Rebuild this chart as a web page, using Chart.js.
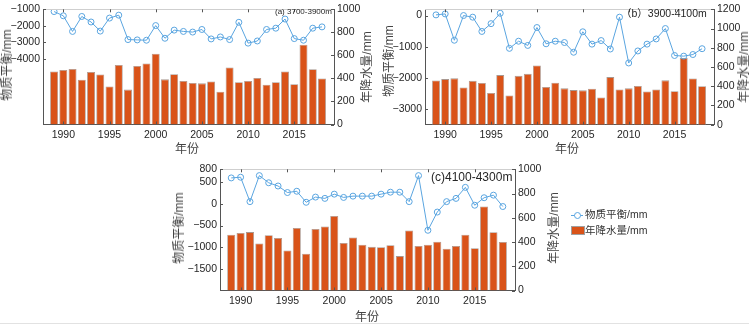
<!DOCTYPE html>
<html lang="zh-CN">

<head>
    <meta charset="UTF-8">
    <title>物质平衡与年降水量</title>
    <script src="https://cdn.jsdelivr.net/npm/chart.js"></script>
    <style>
        body { margin: 0; background: #fff; }
        .tela { position: relative; width: 749px; height: 325px; overflow: hidden; font-family: "Liberation Sans", "Noto Sans CJK SC", sans-serif; color: #262626; }
        .tela canvas { position: absolute; }
        .txt { position: absolute; white-space: nowrap; line-height: 1; }
        .rot { transform: translate(-50%, -50%) rotate(-90deg); color: #444; font-size: 12px; }
        .xt { transform: translate(-50%, -50%); color: #444; font-size: 12px; }
        .rodape { position: absolute; left: 0; top: 323px; width: 749px; height: 0; border-top: 1px solid #e2e2e2; }
    </style>
</head>

<body>
    <div class="tela">
        <canvas id="graficoA"></canvas>
        <canvas id="graficoB"></canvas>
        <canvas id="graficoC"></canvas>

        <!-- titulos dos eixos -->
        <div class="txt rot" style="left:7px; top:65px;">物质平衡/mm</div>
        <div class="txt rot" style="left:367px; top:67px;">年降水量/mm</div>
        <div class="txt xt" style="left:187px; top:149px;">年份</div>

        <div class="txt rot" style="left:389px; top:61px;">物质平衡/mm</div>
        <div class="txt rot" style="left:744px; top:67px;">年降水量/mm</div>
        <div class="txt xt" style="left:567px; top:149px;">年份</div>

        <div class="txt rot" style="left:179px; top:228px;">物质平衡/mm</div>
        <div class="txt rot" style="left:554px; top:228px;">年降水量/mm</div>
        <div class="txt xt" style="left:367px; top:317px;">年份</div>

        <!-- rotulos dos paineis -->
        <div class="txt" style="left:275px; top:8px; font-size:8px;">(a) 3700-3900m</div>
        <div class="txt" style="left:621px; top:8px; font-size:10.5px;">（b）3900-4100m</div>
        <div class="txt" style="left:431px; top:171px; font-size:12px;">(c)4100-4300m</div>

        <!-- legenda -->
        <div style="position:absolute; left:571px; top:215px; width:12px; border-top:1px solid #5aa5e0;"></div>
        <div style="position:absolute; left:574px; top:212px; width:5px; height:5px; border:1px solid #5aa5e0; border-radius:50%; background:#fff;"></div>
        <div class="txt" style="left:585px; top:209px; font-size:10.5px; color:#333;">物质平衡/mm</div>
        <div style="position:absolute; left:571px; top:226px; width:12px; height:7px; background:#d95319; border:1px solid #a0a0a0;"></div>
        <div class="txt" style="left:585px; top:225px; font-size:10.5px; color:#333;">年降水量/mm</div>

        <div class="rodape"></div>
    </div>

    <script>
        // dados
        const anos = [1989, 1990, 1991, 1992, 1993, 1994, 1995, 1996, 1997, 1998, 1999, 2000, 2001, 2002, 2003,
            2004, 2005, 2006, 2007, 2008, 2009, 2010, 2011, 2012, 2013, 2014, 2015, 2016, 2017, 2018];

        const precipitacao = [460, 474, 482, 388, 456, 434, 330, 516, 303, 508, 529, 615, 392, 437, 378,
            360, 357, 374, 284, 495, 367, 378, 403, 345, 367, 461, 349, 693, 480, 400];

        const balancoA = [-1138, -1395, -2345, -1435, -1771, -2325, -1534, -1356, -2839, -2859, -2879, -1989, -2760, -2265, -2345,
            -2384, -2226, -2800, -2681, -2839, -1790, -3056, -2925, -2226, -2147, -1593, -2780, -2879, -2147, -2068];

        const balancoB = [21, 52, -792, 0, -52, -510, -260, 73, -1052, -823, -958, -385, -906, -823, -865,
            -1177, -521, -917, -802, -1073, -52, -1521, -1135, -917, -750, -417, -1281, -1302, -1250, -1063];

        const balancoC = [601, 617, 53, 654, 489, 414, 263, 293, 38, 158, 128, 226, 150, 180, 180,
            180, 226, 271, 271, 53, 654, -609, -188, 53, 128, 383, -30, 143, 203, -60];

        const ticksX = [1990, 1995, 2000, 2005, 2010, 2015];
        const ticksEsqA = [-4000, -3000, -2000, -1000];
        const ticksDirA = [0, 200, 400, 600, 800, 1000];
        const ticksEsqB = [-3000, -2000, -1000, 0];
        const ticksDirB = [0, 200, 400, 600, 800, 1000, 1200];
        const ticksEsqC = [-1500, -1000, -500, 0, 500, 800];
        const ticksDirC = [0, 200, 400, 600, 800, 1000];

        const corLinha = '#5aa5e0';
        const corBarra = '#d95319';
        const corEixo = '#555555';
        const fonteTick = { family: 'Liberation Sans', size: 10.5 };

        // moldura de cima e marcas internas dos ticks (estilo MATLAB)
        const moldura = {
            id: 'moldura',
            afterDatasetsDraw(chart) {
                const { ctx, chartArea: a, scales } = chart;
                ctx.save();
                ctx.lineWidth = 1;
                ctx.strokeStyle = '#cfcfcf';
                ctx.beginPath();
                ctx.moveTo(a.left, Math.round(a.top) + 0.5);
                ctx.lineTo(a.right, Math.round(a.top) + 0.5);
                ctx.stroke();

                ctx.strokeStyle = corEixo;
                ctx.beginPath();
                scales.x.ticks.forEach(function (t) {
                    const px = Math.round(scales.x.getPixelForValue(t.value)) + 0.5;
                    ctx.moveTo(px, a.bottom); ctx.lineTo(px, a.bottom - 3);
                    ctx.moveTo(px, a.top); ctx.lineTo(px, a.top + 3);
                });
                scales.y.ticks.forEach(function (t) {
                    const py = Math.round(scales.y.getPixelForValue(t.value)) + 0.5;
                    ctx.moveTo(a.left, py); ctx.lineTo(a.left + 3, py);
                });
                scales.y1.ticks.forEach(function (t) {
                    const py = Math.round(scales.y1.getPixelForValue(t.value)) + 0.5;
                    ctx.moveTo(a.right, py); ctx.lineTo(a.right - 3, py);
                });
                ctx.stroke();
                ctx.restore();
            }
        };

        function fixarTicks(lista) {
            return function (scale) {
                scale.ticks = lista.map(function (v) { return { value: v }; });
            };
        }

        function fixarLargura(w) {
            return function (scale) { scale.width = w; };
        }

        function fixarAltura(h) {
            return function (scale) { scale.height = h; };
        }

        // sem separador de milhar, sinal de menos tipografico
        function textoSimples(v) {
            return String(v).replace('-', '\u2212');
        }

        // cria um painel (barras = precipitacao, linha = balanco de massa)
        function plotarPainel(id, pos, area, balanco, eixoEsq, eixoDir) {
            const canvas = document.getElementById(id);
            canvas.style.left = pos.x + 'px';
            canvas.style.top = pos.y + 'px';
            canvas.width = pos.w;
            canvas.height = pos.h;
            canvas.style.width = pos.w + 'px';
            canvas.style.height = pos.h + 'px';

            const pontosBarra = anos.map(function (a, i) { return { x: a, y: precipitacao[i] }; });
            const pontosLinha = anos.map(function (a, i) { return { x: a, y: balanco[i] }; });

            const dados = {
                datasets: [
                    {
                        type: 'line',
                        label: '物质平衡/mm',
                        data: pontosLinha,
                        yAxisID: 'y',
                        borderColor: corLinha,
                        borderWidth: 1,
                        pointStyle: 'circle',
                        pointRadius: 3,
                        pointBorderWidth: 1,
                        pointBorderColor: corLinha,
                        pointBackgroundColor: 'rgba(255,255,255,0)',
                        tension: 0,
                        order: 0
                    },
                    {
                        type: 'bar',
                        label: '年降水量/mm',
                        data: pontosBarra,
                        yAxisID: 'y1',
                        backgroundColor: corBarra,
                        borderColor: '#a89890',
                        borderWidth: 0.8,
                        barPercentage: 0.86,
                        categoryPercentage: 1,
                        order: 1
                    }
                ]
            };

            const grade = { display: false, drawTicks: false };

            const config = {
                type: 'bar',
                data: dados,
                plugins: [moldura],
                options: {
                    responsive: false,
                    animation: false,
                    layout: { autoPadding: false, padding: { top: area.t, left: 0, right: 0, bottom: 0 } },
                    plugins: { legend: { display: false }, tooltip: { enabled: false } },
                    scales: {
                        x: {
                            type: 'linear',
                            offset: false,
                            min: 1987.8,
                            max: 2019.3,
                            grid: grade,
                            border: { display: true, color: corEixo },
                            ticks: { color: '#262626', font: fonteTick, padding: 4, maxRotation: 0, autoSkip: false, callback: textoSimples },
                            afterBuildTicks: fixarTicks(ticksX),
                            afterFit: fixarAltura(pos.h - area.b)
                        },
                        y: {
                            position: 'left',
                            min: eixoEsq.min,
                            max: eixoEsq.max,
                            grid: grade,
                            border: { display: true, color: corEixo },
                            ticks: { color: '#262626', font: fonteTick, padding: 3, callback: textoSimples },
                            afterBuildTicks: fixarTicks(eixoEsq.ticks),
                            afterFit: fixarLargura(area.l)
                        },
                        y1: {
                            position: 'right',
                            min: eixoDir.min,
                            max: eixoDir.max,
                            grid: grade,
                            border: { display: true, color: corEixo },
                            ticks: { color: '#262626', font: fonteTick, padding: 3, callback: textoSimples },
                            afterBuildTicks: fixarTicks(eixoDir.ticks),
                            afterFit: fixarLargura(pos.w - area.r)
                        }
                    }
                }
            };

            return new Chart(canvas, config);
        }

        plotarPainel('graficoA', { x: 0, y: 0, w: 380, h: 160 }, { l: 43, r: 334, t: 6, b: 124.5 },
            balancoA, { min: -8000, max: -1000, ticks: ticksEsqA }, { min: 0, max: 1000, ticks: ticksDirA });

        plotarPainel('graficoB', { x: 380, y: 0, w: 369, h: 160 }, { l: 45, r: 334, t: 5.3, b: 124.7 },
            balancoB, { min: -3500, max: 200, ticks: ticksEsqB }, { min: 0, max: 1200, ticks: ticksDirB });

        plotarPainel('graficoC', { x: 170, y: 160, w: 390, h: 165 }, { l: 50, r: 345, t: 7, b: 130.5 },
            balancoC, { min: -2000, max: 800, ticks: ticksEsqC }, { min: 0, max: 1000, ticks: ticksDirC });
    </script>
</body>

</html>
